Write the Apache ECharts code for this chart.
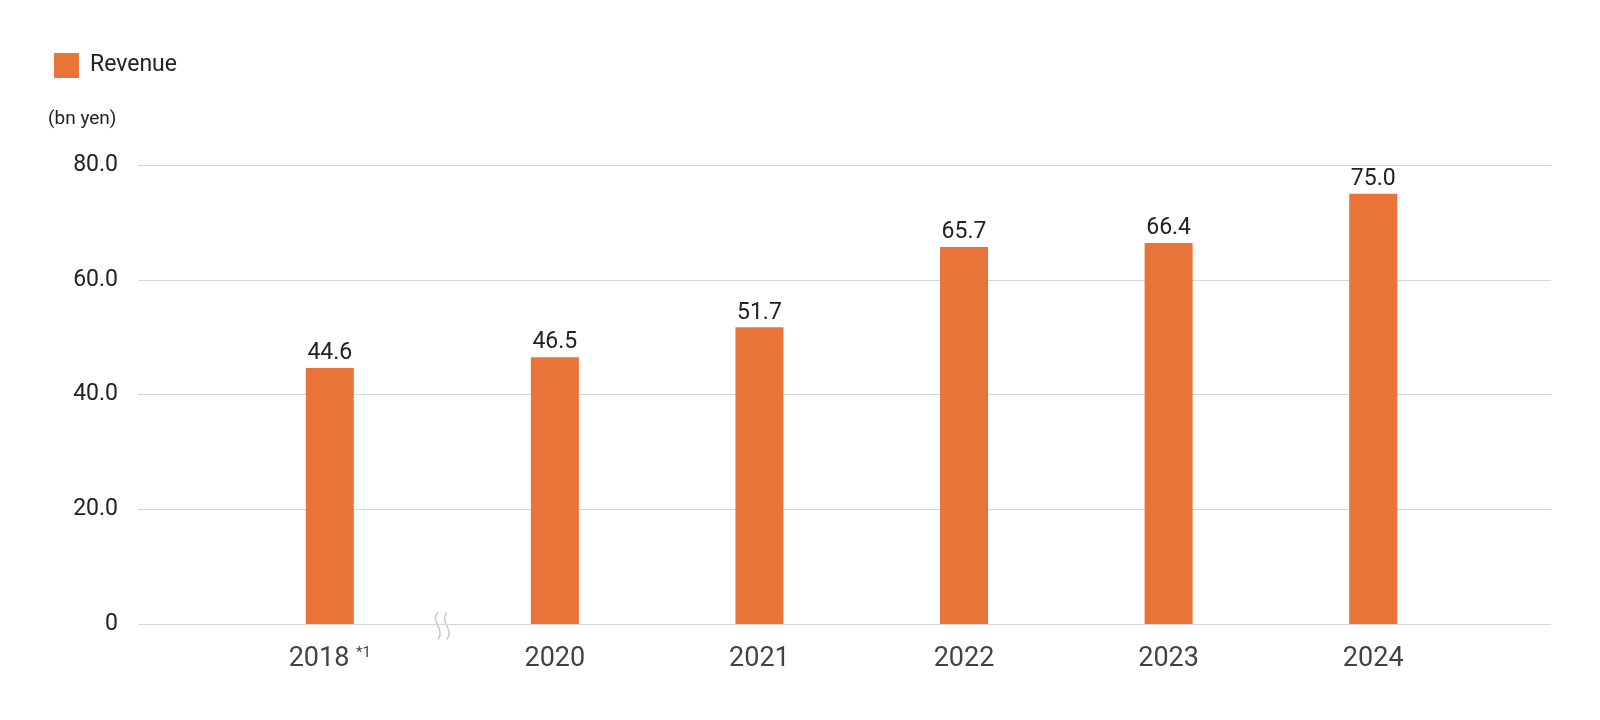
<!DOCTYPE html>
<html>
<head>
<meta charset="utf-8">
<script src="https://cdn.jsdelivr.net/npm/echarts@6/dist/echarts.min.js"></script>
<style>
  html, body { margin: 0; padding: 0; background: #fff; }
  #main { width: 1600px; height: 720px; }
</style>
</head>
<body>
<div id="main"></div>
<script>
// fiscal years and revenue (bn yen)
const years = ['2018', '2020', '2021', '2022', '2023', '2024'];
const revenue = [44.6, 46.5, 51.7, 65.7, 66.4, 75.0];
// horizontal slot of each bar (2018 sits further left, there is a gap for 2019)
const slots = [0, 1.1, 2.1, 3.1, 4.1, 5.1];
const yTicks = [0, 20, 40, 60, 80];

const chart = echarts.init(document.getElementById('main'));

chart.setOption({
  animation: false,
  textStyle: { fontFamily: 'Roboto' },
  legend: {
    left: 49, top: 48,
    itemWidth: 25, itemHeight: 25, itemGap: 10,
    icon: 'rect',
    textStyle: { fontSize: 23, color: '#222', padding: [0, 0, 0, 6] },
    data: ['Revenue']
  },
  grid: { left: 138, right: 49, top: 165, bottom: 96 },
  xAxis: {
    type: 'value', min: -0.9375, max: 5.969,
    show: false
  },
  yAxis: {
    type: 'value', min: 0, max: 80, interval: 20,
    axisLine: { show: false },
    axisTick: { show: false },
    axisLabel: {
      fontSize: 23, color: '#222', margin: 20,
      formatter: v => yTicks.includes(v) ? (v === 0 ? '0' : v.toFixed(1)) : ''
    },
    splitLine: { lineStyle: { color: '#d6d6d6', width: 1 } }
  },
  series: [
    {
      name: 'Revenue',
      type: 'bar',
      barWidth: 48,
      itemStyle: { color: '#e8743a' },
      label: {
        show: true, position: 'top', distance: 3,
        fontSize: 23, color: '#222',
        formatter: p => p.value[1].toFixed(1)
      },
      data: slots.map((s, i) => [s, revenue[i]])
    },
    {
      type: 'scatter',
      symbolSize: 0,
      silent: true,
      label: {
        show: true, position: 'bottom', distance: 22,
        fontSize: 27, color: '#111',
        formatter: p => p.dataIndex === 0 ? '{y|' + years[0] + '} {s|*1}' : '{y|' + years[p.dataIndex] + '}',
        rich: {
          y: { fontSize: 27, color: '#111' },
          s: { fontSize: 15, color: '#111', verticalAlign: 'top', padding: [0, 0, 10, 0] }
        }
      },
      data: slots.map(s => [s, 0])
    }
  ],
  graphic: [
    {
      type: 'text', left: 48, top: 110,
      style: { text: '(bn yen)', fontSize: 19, fill: '#222', fontFamily: 'Roboto' }
    },
    {
      type: 'group', left: 433, top: 610,
      children: [
        { type: 'bezierCurve', shape: { x1: 4, y1: 0, x2: 4, y2: 27, cpx1: -4, cpy1: 8, cpx2: 12, cpy2: 18 },
          style: { stroke: '#c8c8c8', lineWidth: 1.5, fill: null } },
        { type: 'bezierCurve', shape: { x1: 13, y1: 0, x2: 13, y2: 27, cpx1: 5, cpy1: 8, cpx2: 21, cpy2: 18 },
          style: { stroke: '#c8c8c8', lineWidth: 1.5, fill: null } }
      ]
    }
  ]
});
</script>
</body>
</html>
